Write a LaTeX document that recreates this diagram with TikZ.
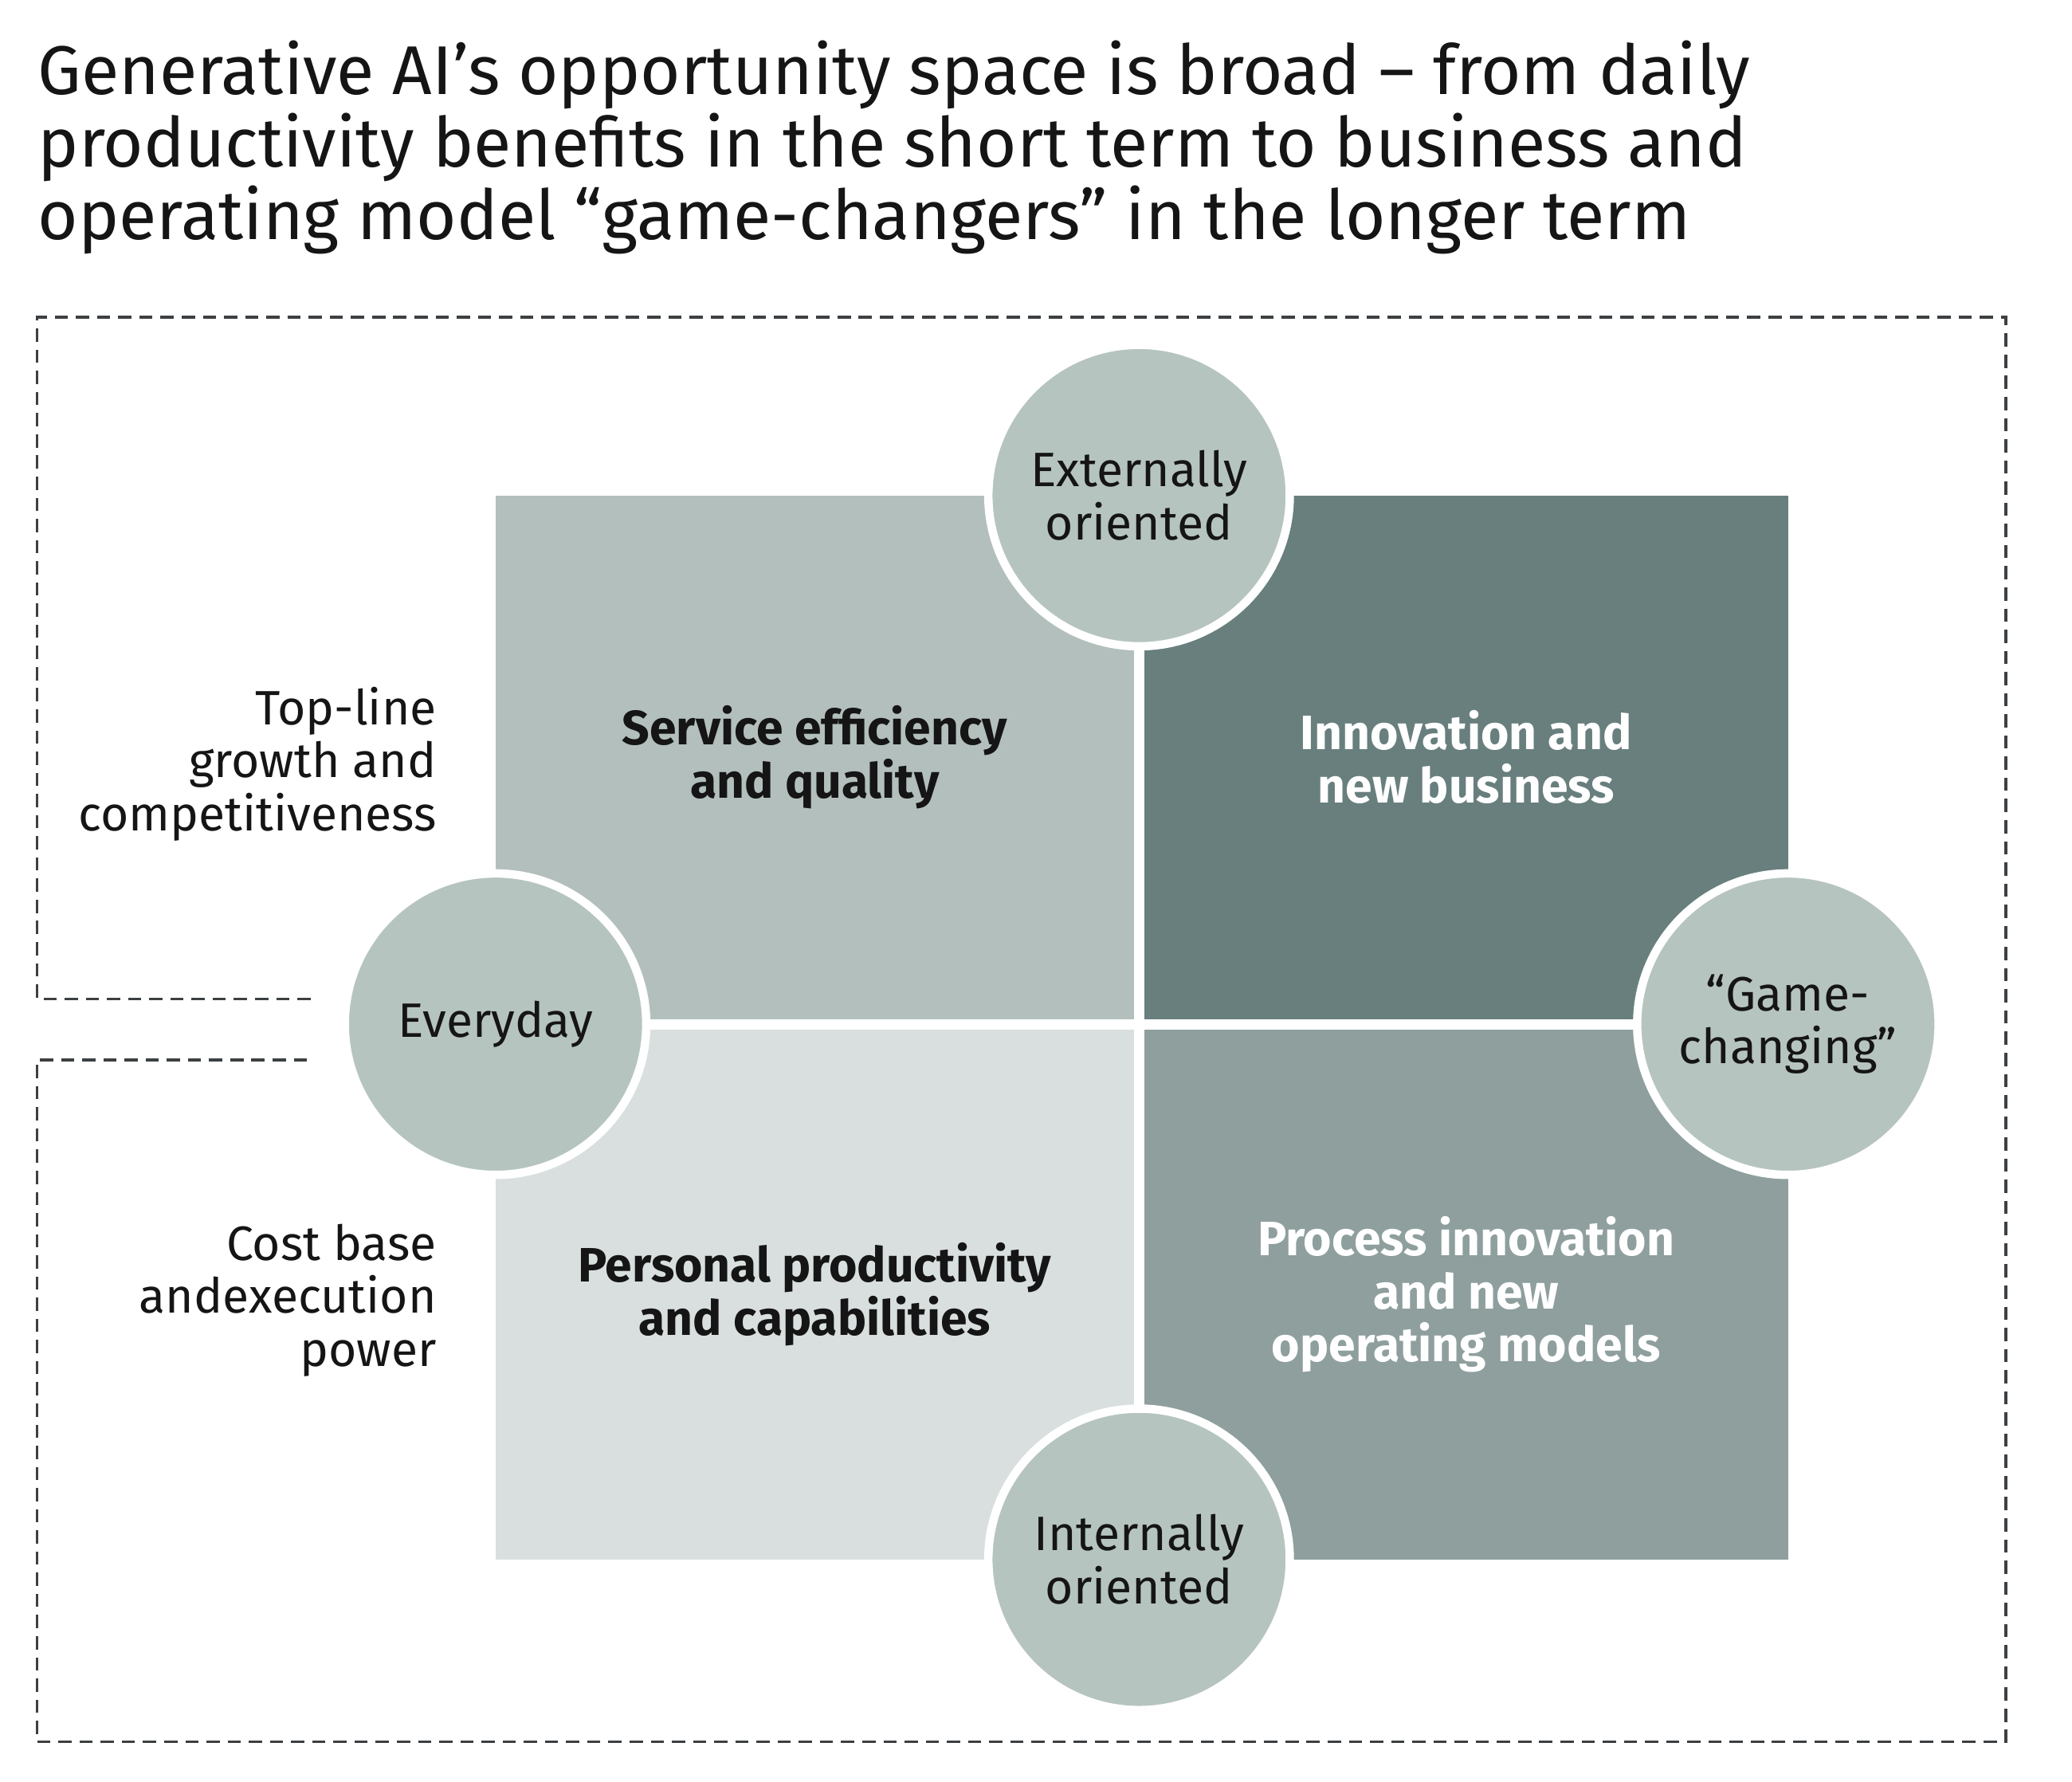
\documentclass[tikz,border=0pt]{standalone}
\usepackage{fontspec}
\setmainfont{Fira Sans}
\usetikzlibrary{positioning}
\definecolor{quadA}{HTML}{B3BFBD}
\definecolor{quadB}{HTML}{687F7E}
\definecolor{quadC}{HTML}{D9DFDF}
\definecolor{quadD}{HTML}{8E9F9E}
\definecolor{discfill}{HTML}{B6C4BF}
\definecolor{dashgray}{HTML}{3C4043}
\definecolor{ink}{HTML}{151515}
\tikzstyle{quad} = [rectangle, minimum width=4.83cm, minimum height=3.96cm, inner sep=0pt, align=center, text=ink, font=\bfseries\fontsize{10.4}{11.4}\selectfont]
\tikzstyle{wide} = [minimum width=4.87cm]
\tikzstyle{tall} = [minimum height=4.01cm]
\tikzstyle{disc} = [circle, draw=white, line width=1.8pt, fill=discfill, minimum size=2.28cm, inner sep=0pt, align=center, text=ink, font=\fontsize{10.4}{11.4}\selectfont]
\tikzstyle{side} = [align=right, anchor=east, inner sep=0pt, text=ink, font=\fontsize{10.4}{11.4}\selectfont]
\tikzstyle{frame} = [draw=dashgray, line width=0.6pt, dash pattern=on 0.1cm off 0.06cm]

\begin{document}
\begin{tikzpicture}[x=0.01cm, y=-0.01cm]
	\useasboundingbox (0,0) rectangle (1568,1348);
	% title
	\node (title) [anchor=north west, align=left, inner sep=0pt, text=ink, font=\fontsize{14.85}{15.6}\selectfont] at (28,30)
		{Generative AI’s opportunity space is broad – from daily\\
		 productivity benefits in the short term to business and\\
		 operating model “game-changers” in the longer term};
	% dashed frame, open at the left middle
	\coordinate (f1) at (235,756);
	\coordinate (f2) at (235,802);
	\draw [frame] (f1) -| (28,240) -| (1518,1318) -| (28,802) -- (f2);
	% quadrants
	\node (tl) [quad, fill=quadA] at (616.5,573) {Service efficiency\\and quality};
	\node (tr) [quad, wide, fill=quadB, text=white] at (1109.5,573) {Innovation and\\new business};
	\node (bl) [quad, tall, fill=quadC] at (616.5,979.5) {Personal productivity\\and capabilities};
	\node (br) [quad, wide, tall, fill=quadD, text=white] at (1109.5,979.5) {Process innovation\\and new\\operating models};
	% circles
	\node (ext) [disc] at (862,375) {Externally\\oriented};
	\node (day) [disc] at (375,775) {Everyday};
	\node (game) [disc] at (1353,775) {“Game-\\changing”};
	\node (int) [disc] at (862,1180) {Internally\\oriented};
	% side labels
	\node (top) [side] at (331,578) {Top-line\\growth and\\competitiveness};
	\node (cost) [side] at (331,984) {Cost base\\andexecution\\power};
\end{tikzpicture}
\end{document}
